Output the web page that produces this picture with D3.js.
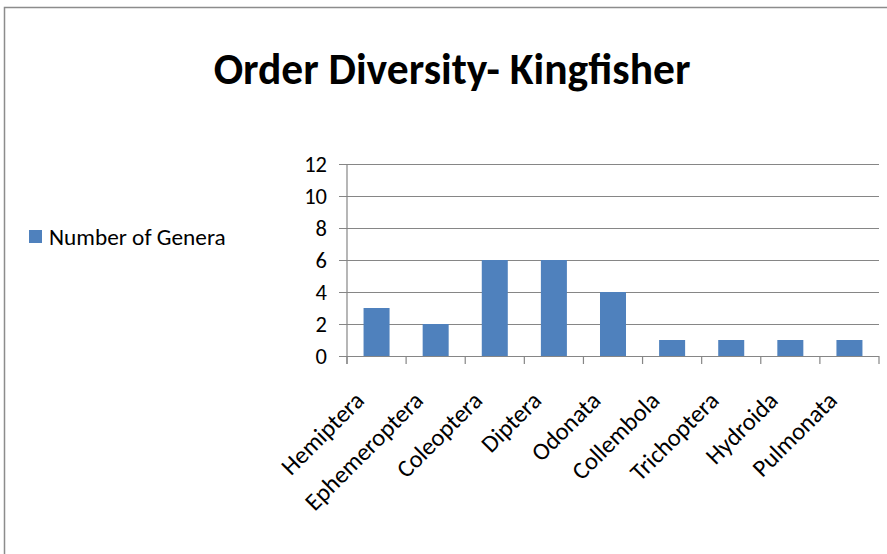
<!DOCTYPE html>
<html><head><meta charset="utf-8">
<script src="https://cdn.jsdelivr.net/npm/d3@7"></script>
<style>html,body{margin:0;padding:0;background:#fff;}svg{display:block;}</style>
</head><body>
<svg id="chart" width="887" height="554"></svg>
<script>
const title = "Order Diversity- Kingfisher";
const seriesName = "Number of Genera";
const categories = ["Hemiptera","Ephemeroptera","Coleoptera","Diptera","Odonata","Collembola","Trichoptera","Hydroida","Pulmonata"];
const values = [3,2,6,6,4,1,1,1,1];
const yTicks = [0,2,4,6,8,10,12];

const font = "Carlito, Lato, 'Open Sans', sans-serif";
const svg = d3.select("#chart");
const W = 887, H = 554;
const m = {left:347, right:879, top:164, bottom:356};

// outer frame
svg.append("rect").attr("x",4.5).attr("y",7.5).attr("width",W+10).attr("height",H+10)
  .attr("fill","#fff").attr("stroke","#8c8c8c").attr("stroke-width",1.5);

svg.append("text").attr("x",452).attr("y",84).attr("text-anchor","middle")
  .attr("font-family",font).attr("font-weight","bold").attr("font-size",43.5).attr("fill","#000")
  .text(title);

const x = d3.scaleBand().domain(categories).range([m.left,m.right]).paddingInner(0.56).paddingOuter(0.28);
const y = d3.scaleLinear().domain([0,12]).range([m.bottom,m.top]);

// gridlines
const yAxis = d3.axisLeft(y).tickValues(yTicks).tickSize(-(m.right-m.left)).tickSizeOuter(0).tickPadding(20);
const gy = svg.append("g").attr("transform",`translate(${m.left},0)`).call(yAxis);
gy.select(".domain").remove();
gy.selectAll(".tick line").attr("stroke","#868686").attr("stroke-width",1.2).attr("x1",-8);
gy.selectAll(".tick text").attr("font-family",font).attr("font-size",22.5).attr("fill","#000");

// category ticks
const xEdges = d3.scaleLinear().domain([0,categories.length]).range([m.left,m.right]);
const edgeIdx = d3.range(categories.length+1);
svg.append("g").selectAll("line").data(edgeIdx).join("line")
  .attr("x1",d=>xEdges(d)).attr("x2",d=>xEdges(d)).attr("y1",m.bottom).attr("y2",m.bottom+8)
  .attr("stroke","#868686").attr("stroke-width",1.2);
// y axis line
svg.append("line").attr("x1",m.left).attr("x2",m.left).attr("y1",m.top).attr("y2",m.bottom+8)
  .attr("stroke","#868686").attr("stroke-width",1.2);

// bars
svg.append("g").selectAll("rect").data(values).join("rect")
  .attr("x",(d,i)=>x(categories[i])).attr("width",x.bandwidth())
  .attr("y",d=>y(d)).attr("height",d=>y(0)-y(d)).attr("fill","#4f81bd");

// x labels
const bw = (m.right-m.left)/categories.length;
svg.append("g").selectAll("text").data(categories).join("text")
  .attr("transform",(d,i)=>`translate(${m.left+bw*(i+0.5)-11},${m.bottom+46}) rotate(-45)`)
  .attr("text-anchor","end").attr("font-family",font).attr("font-size",24.5).attr("fill","#000")
  .text(d=>d);

// legend
svg.append("rect").attr("x",29).attr("y",230).attr("width",13).attr("height",13).attr("fill","#4f81bd");
svg.append("text").attr("x",49).attr("y",245).attr("font-family",font).attr("font-size",23.3).attr("fill","#000").text(seriesName);
</script>
</body></html>
